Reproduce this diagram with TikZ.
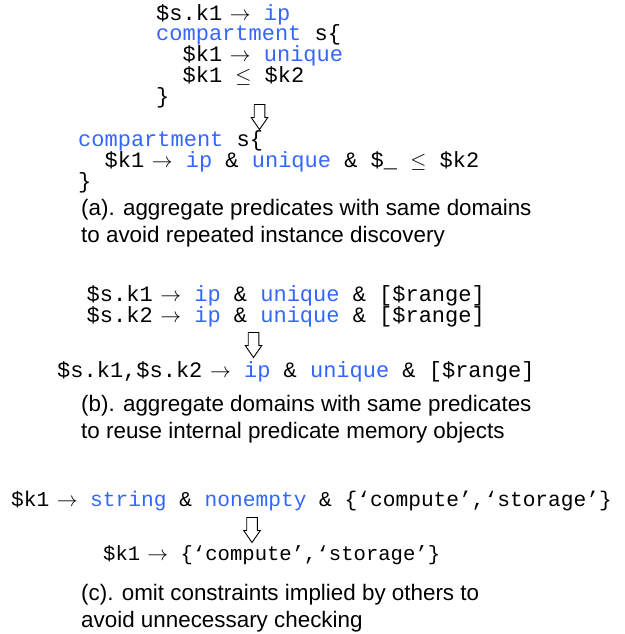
\documentclass[tikz,border=0pt]{standalone}
\usepackage{fontspec}
\setmonofont{Liberation Mono}
\setsansfont{Liberation Sans}
\usepackage{xcolor}

\definecolor{kwblue}{RGB}{51,102,255}
\newcommand{\kw}[1]{\textcolor{kwblue}{#1}}
\newcommand{\toarr}{\hspace{0.35em}$\rightarrow$\ }
\newcommand{\leqop}{$\leq$}
\newcommand{\codefont}[1][22]{\ttfamily\fontsize{#1}{20.7}\selectfont}
\newcommand{\capfont}{\sffamily\fontsize{22.4}{27}\selectfont}

\tikzset{
  code/.style={anchor=base west, inner sep=0pt, align=left, font=\codefont},
  caption/.style={anchor=base west, inner sep=0pt, align=left, font=\capfont},
  pics/downarrow/.style={code={
    \draw[black, fill=white, line width=0.9pt, line join=miter]
      (-5.3,0) -- (-5.3,13) -- (-8.3,13) -- (0,25) -- (8.3,13) -- (5.3,13) -- (5.3,0) -- cycle;
  }}
}

\begin{document}
\begin{tikzpicture}[x=1pt, y=-1pt]
\useasboundingbox (0,0) rectangle (624,634);
%
\node[code] (srcA) at (156, 103) {\$s.k1\toarr\kw{ip}\\
  \kw{compartment} s\{\\
  \phantom{xx}\$k1\toarr\kw{unique}\\
  \phantom{xx}\$k1 \leqop{} \$k2\\
  \}};
\pic (arrA) at (259.5, 104.5) {downarrow};
\node[code] (dstA) at (78, 188) {\kw{compartment} s\{\\
  \phantom{xx}\$k1\toarr\kw{ip} \& \kw{unique} \& \$\_ \leqop{} \$k2\\
  \}};
\node[caption] (capA) at (81, 242.5) {(a). aggregate predicates with same domains\\
  to avoid repeated instance discovery};
%
\node[code] (srcB) at (86.5, 322.5) {\$s.k1\toarr\kw{ip} \& \kw{unique} \& [\$range]\\
  \$s.k2\toarr\kw{ip} \& \kw{unique} \& [\$range]};
\pic (arrB) at (253.5, 332.5) {downarrow};
\node[code] (dstB) at (57, 377.5) {\$s.k1,\$s.k2\toarr\kw{ip} \& \kw{unique} \& [\$range]};
\node[caption] (capB) at (81, 438) {(b). aggregate domains with same predicates\\
  to reuse internal predicate memory objects};
%
\node[code, font={\codefont[21.2]}] (srcC) at (11, 506.5) {\$k1\toarr\kw{string} \& \kw{nonempty} \& \{‘compute’,‘storage’\}};
\pic (arrC) at (252, 517.5) {downarrow};
\node[code, font={\codefont[20.6]}] (dstC) at (103, 560) {\$k1\toarr\{‘compute’,‘storage’\}};
\node[caption] (capC) at (81, 627.5) {(c). omit constraints implied by others to\\
  avoid unnecessary checking};
\end{tikzpicture}
\end{document}
